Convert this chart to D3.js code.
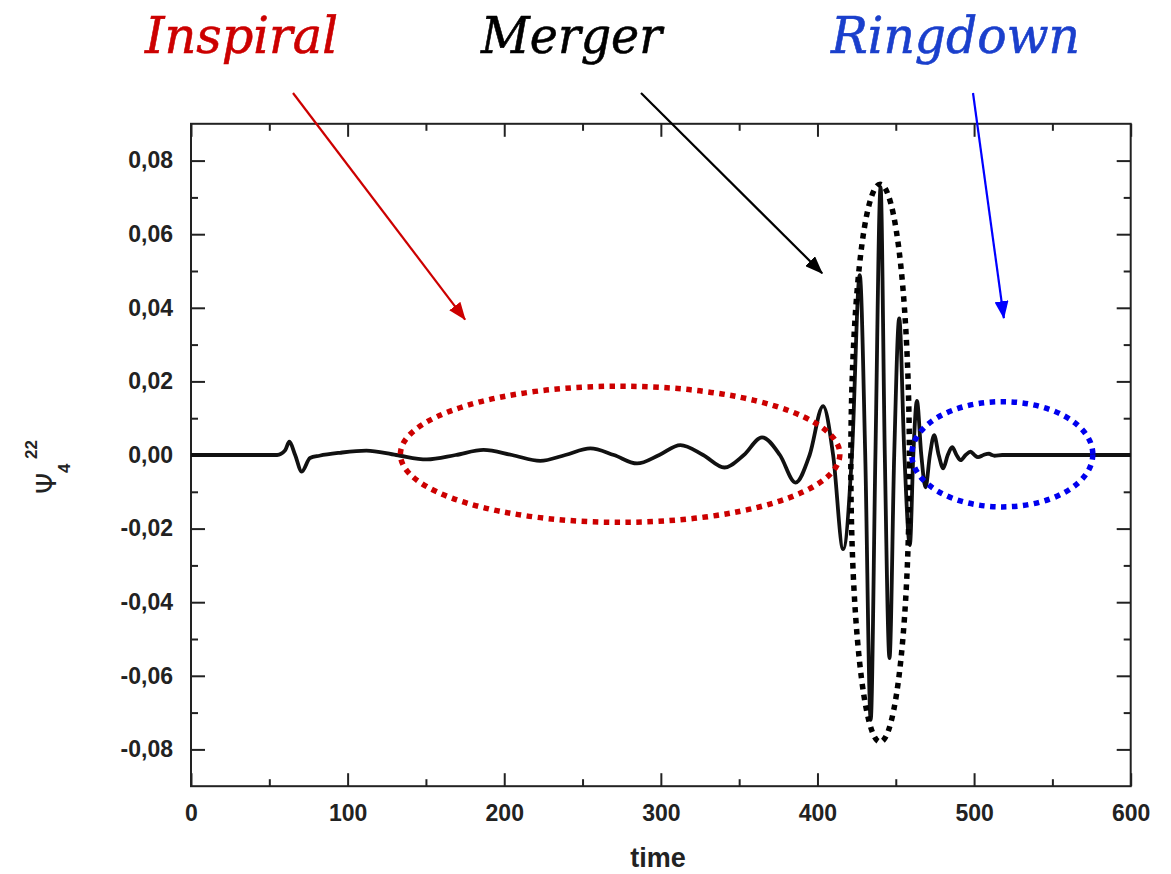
<!DOCTYPE html>
<html>
<head>
<meta charset="utf-8">
<script src="https://cdn.jsdelivr.net/npm/d3@7"></script>
<style>
  html, body { margin: 0; padding: 0; background: #fff; }
  svg { display: block; }
</style>
</head>
<body>
<svg id="chart" width="1171" height="874"></svg>
<script>
// ---- data ----
const time = [0, 55, 60, 62.8, 66.5, 70.7, 76, 82, 95, 112, 131, 150.6, 169, 186.8, 205, 223, 239, 255, 270, 284.8,
  299, 312.5, 327, 340.6, 353, 364.6, 376, 386, 395, 403.6, 410, 416.4, 422, 427, 430.5, 434, 437, 440.3, 443, 446,
  449, 452.2, 455.5, 459, 461.2, 463.5, 466.3, 469, 471.8, 474.5, 477.4, 480.3, 483.2, 486, 488.8, 491.4, 494.6,
  497.8, 500.2, 502.5, 506, 509.5, 511.3, 513, 518, 600];
const psi4 = [0, 0, 0.0012, 0.0036, 0, -0.0045, -0.0008, -0.0002, 0.0006, 0.0012, 0, -0.0012, 0, 0.0014, 0, -0.0016, 0, 0.0018, 0, -0.0023,
  0, 0.0027, 0, -0.0034, 0, 0.0048, 0, -0.0075, 0, 0.0133, 0, -0.0256, 0, 0.0489, 0, -0.072, 0, 0.0728, 0, -0.0552,
  0, 0.0371, 0, -0.0245, 0, 0.0147, 0, -0.0088, 0, 0.0054, 0, -0.0036, 0, 0.0021, 0, -0.0014, 0,
  0.0009, 0, -0.0006, 0, 0.0004, 0, -0.0002, 0, 0];

const xTicks = [0, 100, 200, 300, 400, 500, 600];
const xMinorTicks = [50, 150, 250, 350, 450, 550];
const yTicks = [-0.08, -0.06, -0.04, -0.02, 0, 0.02, 0.04, 0.06, 0.08];
const yMinorTicks = [-0.07, -0.05, -0.03, -0.01, 0.01, 0.03, 0.05, 0.07];

const phaseLabels = ["Inspiral", "Merger", "Ringdown"];
// regions (time, psi centre; time, psi half-widths) for dotted ellipses
const regionCenterT = [274, 440, 518];
const regionCenterV = [0.0002, -0.0022, 0.0002];
const regionHalfT = [140.3, 18.7, 57.8];
const regionHalfV = [0.0185, 0.0758, 0.0143];
// arrow tips (time, psi)
const arrowTipT = [175, 403, 519];
const arrowTipV = [0.0368, 0.0494, 0.0372];

// ---- layout ----
const svg = d3.select("#chart");
const L = 191, R = 1130.7, T = 123.8, B = 786.2;
const x = d3.scaleLinear().domain([0, 600]).range([L, R]);
const y = d3.scaleLinear().domain([-0.09, 0.09]).range([B, T]);
const fmt = d => d3.format(".2f")(d).replace(".", ",").replace("−", "-");

// frame
svg.append("rect").attr("x", L).attr("y", T).attr("width", R - L).attr("height", B - T)
  .attr("fill", "none").attr("stroke", "#222").attr("stroke-width", 2);

const tickStyle = g => g.selectAll("line").attr("stroke", "#222").attr("stroke-width", 2);

// bottom axis
const gB = svg.append("g").attr("transform", `translate(0,${B})`)
  .call(d3.axisBottom(x).tickValues(xTicks).tickSize(-13).tickPadding(18).tickFormat(d3.format("d")));
gB.select(".domain").remove();
tickStyle(gB);
gB.selectAll("text").attr("font-family", "Liberation Sans, Arial, sans-serif").attr("font-weight", "bold")
  .attr("font-size", 23).attr("fill", "#222").attr("dy", "0.71em");
const gBm = svg.append("g").attr("transform", `translate(0,${B})`)
  .call(d3.axisBottom(x).tickValues(xMinorTicks).tickSize(-7).tickFormat(""));
gBm.select(".domain").remove(); tickStyle(gBm);

// top axis
const gT = svg.append("g").attr("transform", `translate(0,${T})`)
  .call(d3.axisTop(x).tickValues(xTicks).tickSize(-13).tickFormat(""));
gT.select(".domain").remove(); tickStyle(gT);
const gTm = svg.append("g").attr("transform", `translate(0,${T})`)
  .call(d3.axisTop(x).tickValues(xMinorTicks).tickSize(-7).tickFormat(""));
gTm.select(".domain").remove(); tickStyle(gTm);

// left axis
const gL = svg.append("g").attr("transform", `translate(${L},0)`)
  .call(d3.axisLeft(y).tickValues(yTicks).tickSize(-14).tickPadding(18).tickFormat(fmt));
gL.select(".domain").remove(); tickStyle(gL);
gL.selectAll("text").attr("font-family", "Liberation Sans, Arial, sans-serif").attr("font-weight", "bold")
  .attr("font-size", 23).attr("fill", "#222");
const gLm = svg.append("g").attr("transform", `translate(${L},0)`)
  .call(d3.axisLeft(y).tickValues(yMinorTicks).tickSize(-7).tickFormat(""));
gLm.select(".domain").remove(); tickStyle(gLm);

// right axis
const gR = svg.append("g").attr("transform", `translate(${R},0)`)
  .call(d3.axisRight(y).tickValues(yTicks).tickSize(-14).tickFormat(""));
gR.select(".domain").remove(); tickStyle(gR);
const gRm = svg.append("g").attr("transform", `translate(${R},0)`)
  .call(d3.axisRight(y).tickValues(yMinorTicks).tickSize(-7).tickFormat(""));
gRm.select(".domain").remove(); tickStyle(gRm);

// axis titles
svg.append("text").attr("x", 658).attr("y", 867).attr("text-anchor", "middle")
  .attr("font-family", "Liberation Sans, Arial, sans-serif").attr("font-weight", "bold")
  .attr("font-size", 27).attr("fill", "#222").text("time");

const yl = svg.append("g").attr("font-family", "DejaVu Sans, sans-serif").attr("fill", "#222");
yl.append("text").attr("transform", "translate(56,494) rotate(-90)").attr("font-size", 27).text("Ψ");
yl.append("text").attr("transform", "translate(70,473) rotate(-90)").attr("font-size", 17)
  .attr("font-family", "Liberation Sans, Arial, sans-serif").attr("font-weight", "bold").text("4");
yl.append("text").attr("transform", "translate(37,459) rotate(-90)").attr("font-size", 17)
  .attr("font-family", "Liberation Sans, Arial, sans-serif").attr("font-weight", "bold").text("22");

// waveform
const pts = time.map((t, i) => [t, psi4[i]]);
const line = d3.line().x(d => x(d[0])).y(d => y(d[1])).curve(d3.curveMonotoneX);
svg.append("path").datum(pts).attr("d", line).attr("fill", "none")
  .attr("stroke", "#111").attr("stroke-width", 3.8).attr("stroke-linejoin", "round");

// dotted ellipses
const ellColors = ["#cc0000", "#000000", "#0000ee"];
svg.append("g").selectAll("ellipse").data(phaseLabels).join("ellipse")
  .attr("cx", (d, i) => x(regionCenterT[i]))
  .attr("cy", (d, i) => y(regionCenterV[i]))
  .attr("rx", (d, i) => x(regionHalfT[i]) - x(0))
  .attr("ry", (d, i) => y(0) - y(regionHalfV[i]))
  .attr("fill", "none").attr("stroke", (d, i) => ellColors[i])
  .attr("stroke-width", 5.5).attr("stroke-dasharray", "5.5 5.5");

// arrows
const arrowColors = ["#cc0000", "#000000", "#0000ff"];
const arrowStart = [[293, 93], [641, 93], [973, 93]];
const defs = svg.append("defs");
arrowColors.forEach((c, i) => {
  defs.append("marker").attr("id", "ah" + i).attr("viewBox", "0 0 18 14")
    .attr("refX", 17).attr("refY", 7).attr("markerWidth", 18).attr("markerHeight", 14)
    .attr("markerUnits", "userSpaceOnUse").attr("orient", "auto")
    .append("path").attr("d", "M0,0 L18,7 L0,14 Z").attr("fill", c);
});
svg.append("g").selectAll("line").data(phaseLabels).join("line")
  .attr("x1", (d, i) => arrowStart[i][0]).attr("y1", (d, i) => arrowStart[i][1])
  .attr("x2", (d, i) => x(arrowTipT[i])).attr("y2", (d, i) => y(arrowTipV[i]))
  .attr("stroke", (d, i) => arrowColors[i]).attr("stroke-width", 2.2)
  .attr("marker-end", (d, i) => `url(#ah${i})`);

// phase titles
const titleColors = ["#cc0000", "#000000", "#1a3fcc"];
const titleX = [145, 481, 831];
const titleW = [193, 181, 249];
svg.append("g").selectAll("text").data(phaseLabels).join("text")
  .attr("x", (d, i) => titleX[i]).attr("y", 53)
  .attr("font-family", "DejaVu Serif, serif").attr("font-style", "italic")
  .attr("font-size", 51).attr("fill", (d, i) => titleColors[i])
  .attr("stroke", (d, i) => titleColors[i]).attr("stroke-width", 0.6)
  .attr("textLength", (d, i) => titleW[i]).attr("lengthAdjust", "spacingAndGlyphs")
  .text(d => d);
</script>
</body>
</html>
